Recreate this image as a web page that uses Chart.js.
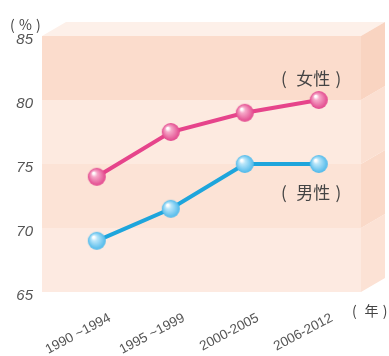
<!DOCTYPE html>
<html>
<head>
<meta charset="utf-8">
<script src="https://cdn.jsdelivr.net/npm/chart.js@4"></script>
<style>
  html, body { margin: 0; padding: 0; background: #fff; }
  #wrap { width: 389px; height: 356px; position: relative; }
</style>
</head>
<body>
<div id="wrap"><canvas id="lifeChart"></canvas></div>
<script>
// ── data ──
const periods = ['1990 ~1994', '1995 ~1999', '2000-2005', '2006-2012'];
const female = [74, 77.5, 79, 80];
const male = [69, 71.5, 75, 75];
const yTicks = [65, 70, 75, 80, 85];

// band colours, bottom to top
const bandFront = ['#fdeae1', '#fce3d6', '#fdeae0', '#fbdccc'];
const bandSide = ['#fce2d5', '#fad9c8', '#fbe0d2', '#f9d4c1'];
const DX = 24, DY = 14;

function sphere(base, light, r) {
  const c = document.createElement('canvas');
  c.width = c.height = r * 2 + 2;
  const g = c.getContext('2d');
  const grad = g.createRadialGradient(r * 0.75, r * 0.7, 1, r + 1, r + 1, r);
  grad.addColorStop(0, '#ffffff');
  grad.addColorStop(0.25, light);
  grad.addColorStop(1, base);
  g.fillStyle = grad;
  g.beginPath();
  g.arc(r + 1, r + 1, r, 0, Math.PI * 2);
  g.fill();
  return c;
}
const pinkBall = sphere('#e2468c', '#f6a9c9', 9);
const blueBall = sphere('#4db8ea', '#b9e6fa', 9);

// draw a bracketed label piece by piece so the spacing matches
function bracket(ctx, text, x, y, size) {
  ctx.font = size + 'px "Noto Sans CJK SC"';
  ctx.fillText('(', x, y);
  let cx = x + size * 0.9;
  for (const ch of text) { ctx.fillText(ch, cx, y); cx += ctx.measureText(ch).width; }
  ctx.fillText(')', cx + size * 0.3, y);
}

const boxPlugin = {
  id: 'box',
  beforeDatasetsDraw(chart) {
    const { ctx, chartArea: a, scales: { y } } = chart;
    ctx.save();
    // top face
    ctx.fillStyle = '#fdf0e9';
    ctx.beginPath();
    ctx.moveTo(a.left, a.top); ctx.lineTo(a.left + DX, a.top - DY);
    ctx.lineTo(a.right + DX, a.top - DY); ctx.lineTo(a.right, a.top);
    ctx.closePath(); ctx.fill();
    for (let i = 0; i < yTicks.length - 1; i++) {
      const y0 = y.getPixelForValue(yTicks[i]);
      const y1 = y.getPixelForValue(yTicks[i + 1]);
      ctx.fillStyle = bandFront[i];
      ctx.fillRect(a.left, y1, a.right - a.left, y0 - y1);
      ctx.fillStyle = bandSide[i];
      ctx.beginPath();
      ctx.moveTo(a.right, y0); ctx.lineTo(a.right + DX, y0 - DY);
      ctx.lineTo(a.right + DX, y1 - DY); ctx.lineTo(a.right, y1);
      ctx.closePath(); ctx.fill();
    }
    ctx.restore();
  },
  afterDraw(chart) {
    const { ctx } = chart;
    ctx.save();
    ctx.fillStyle = '#444';
    ctx.textBaseline = 'middle';
    ctx.font = '14px "Noto Sans CJK SC"';
    ctx.fillText('(', 10, 25);
    ctx.fillText('%', 19, 25);
    ctx.fillText(')', 36, 25);
    bracket(ctx, '年', 352, 311, 14);
    bracket(ctx, '女性', 281, 79, 17);
    bracket(ctx, '男性', 281, 193, 17);
    ctx.restore();
  }
};

new Chart(document.getElementById('lifeChart').getContext('2d'), {
  type: 'line',
  data: {
    datasets: [
      { label: '女性', data: female.map((v, i) => ({ x: i, y: v })), borderColor: '#e6448b', borderWidth: 4, pointStyle: pinkBall, pointRadius: 9 },
      { label: '男性', data: male.map((v, i) => ({ x: i, y: v })), borderColor: '#1ea5dc', borderWidth: 4, pointStyle: blueBall, pointRadius: 9 }
    ]
  },
  options: {
    responsive: true,
    maintainAspectRatio: false,
    animation: false,
    layout: { padding: { top: 36, right: 28, left: 0, bottom: 0 } },
    plugins: { legend: { display: false }, tooltip: { enabled: false } },
    scales: {
      x: {
        type: 'linear', min: -0.74, max: 3.57,
        afterBuildTicks: s => { s.ticks = periods.map((p, i) => ({ value: i })); },
        afterFit: s => { s.height = 64; },
        grid: { display: false }, border: { display: false },
        ticks: { callback: v => periods[v], minRotation: 28, maxRotation: 28, labelOffset: 13, padding: 10, color: '#555', font: { family: 'Liberation Sans', size: 13.5 } }
      },
      y: {
        min: 65, max: 85,
        afterBuildTicks: s => { s.ticks = yTicks.map(v => ({ value: v })); },
        afterFit: s => { s.width = 42; },
        grid: { display: false, drawTicks: false }, border: { display: false },
        ticks: { padding: 9, labelOffset: 4, color: '#555', font: { family: 'Liberation Sans', size: 15, style: 'italic' } }
      }
    }
  },
  plugins: [boxPlugin]
});
</script>
</body>
</html>
